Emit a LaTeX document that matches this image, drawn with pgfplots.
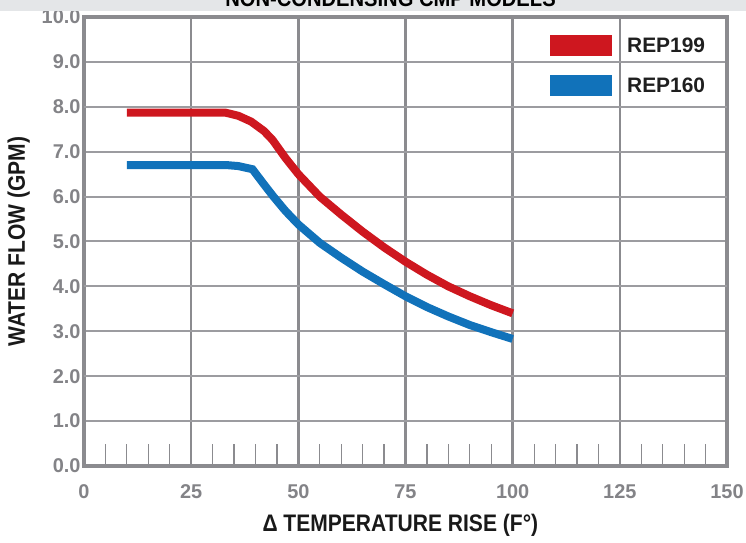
\documentclass[border=0pt]{standalone}
\usepackage{fontspec}
\setmainfont{Liberation Sans}
\newfontfamily\condfont[FakeStretch=0.88]{Liberation Sans}
\usepackage{pgfplots}
\pgfplotsset{compat=1.18}

\definecolor{repred}{HTML}{CE171F}
\definecolor{repblue}{HTML}{1172BA}
\definecolor{gridgray}{HTML}{8B8B8F}
\definecolor{labgray}{HTML}{838387}
\definecolor{bandgray}{HTML}{E4E6E8}

\begin{document}
\begin{tikzpicture}
\begin{axis}[
    scale only axis,
    width=643bp, height=449bp,
    xmin=0, xmax=150, ymin=0, ymax=10,
    xtick={0,25,...,150},
    ytick={0,1,...,10},
    extra y ticks={2,4,6,8},
    extra y tick labels={},
    extra y tick style={grid style={line width=4bp, gridgray}},
    grid=major,
    x grid style={line width=2.5bp, gridgray},
    y grid style={line width=2bp, gridgray!85},
    axis line style={line width=4bp, gridgray},
    minor x tick num=4,
    major tick length=0pt,
    minor tick length=22bp,
    tick align=inside,
    xtick pos=left, ytick pos=left,
    minor tick style={line width=1.2bp, gridgray},
    /pgf/number format/assume math mode=true,
    yticklabel style={/pgf/number format/.cd, fixed, fixed zerofill, precision=1},
    ticklabel style={font=\fontsize{20}{20}\selectfont\bfseries, text=labgray},
    xticklabel shift=15bp,
    xlabel={Δ TEMPERATURE RISE (F°)},
    ylabel={WATER FLOW (GPM)},
    xlabel style={font=\fontsize{24}{24}\selectfont\bfseries\condfont, text=black!90,
        at={(axis description cs:0.492,-0.1448)}, anchor=base},
    ylabel style={font=\fontsize{24}{24}\selectfont\bfseries\condfont, text=black!90,
        at={(axis description cs:-0.0918,0.5)}, anchor=base},
    legend cell align=left,
    legend image code/.code={\fill[#1, draw=none] (0bp,-10.5bp) rectangle (62bp,10.5bp);},
    legend style={at={(rel axis cs:0.7247,0.96)}, anchor=north west,
        draw=none, fill=none, inner sep=0pt, row sep=19bp, column sep=15bp,
        font=\fontsize{21}{21}\selectfont\bfseries, text=black!88,
        nodes={inner sep=0pt}},
]
\addplot[repred, line width=8bp] coordinates {
    (10,7.87) (33,7.87) (36,7.80) (39,7.67) (42,7.46) (44,7.26) (47,6.86)
    (50,6.50) (55,6.00) (60,5.60) (65,5.22) (70,4.87) (75,4.55) (80,4.26)
    (85,4.00) (90,3.78) (95,3.58) (100,3.40)
};
\addlegendentry{REP199}
\addplot[repblue, line width=8bp] coordinates {
    (10,6.70) (33.5,6.70) (36,6.68) (39.3,6.61) (42,6.27) (44.2,6.00) (47,5.68)
    (50,5.38) (55,4.97) (60,4.64) (65,4.33) (70,4.05) (75,3.78) (80,3.54)
    (85,3.33) (90,3.14) (95,2.98) (100,2.83)
};
\addlegendentry{REP160}
\end{axis}
\pgfresetboundingbox
\path[use as bounding box] ([xshift=-84bp,yshift=-77bp]current axis.south west)
    rectangle ([xshift=19bp,yshift=17bp]current axis.north east);
\fill[bandgray] ([xshift=-84bp,yshift=6bp]current axis.north west)
    rectangle ([xshift=19bp,yshift=30bp]current axis.north east);
\node[font=\fontsize{23}{23}\selectfont\bfseries\condfont, anchor=base, inner sep=0pt]
    at ([xshift=-15bp,yshift=10bp]current axis.north) {NON-CONDENSING CMP MODELS};
\end{tikzpicture}
\end{document}
